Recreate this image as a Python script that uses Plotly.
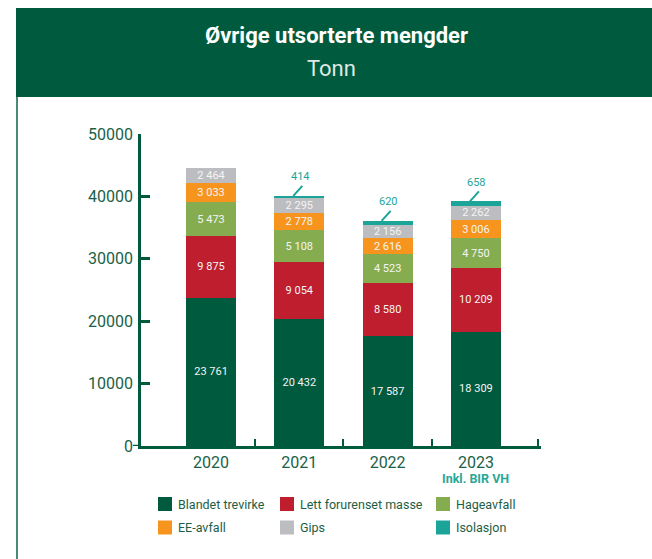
import plotly.graph_objects as go

# Utsorterte mengder per år (tonn)
years = ["2020", "2021", "2022", "2023"]
blandet_trevirke = [23761, 20432, 17587, 18309]
lett_forurenset = [9875, 9054, 8580, 10209]
hageavfall = [5473, 5108, 4523, 4750]
ee_avfall = [3033, 2778, 2616, 3006]
gips = [2464, 2295, 2156, 2262]
isolasjon = [None, 414, 620, 658]

series_names = ["Blandet trevirke", "Lett forurenset masse", "Hageavfall",
                "EE-avfall", "Gips", "Isolasjon"]
series_values = [blandet_trevirke, lett_forurenset, hageavfall,
                 ee_avfall, gips, isolasjon]
colors = ["#005b3e", "#be1e2d", "#85ad50", "#f7941e", "#bcbdc0", "#1ba599"]

GREEN = "#005b3e"
TEAL = "#1ba599"
FONT = "Roboto"

# plot area in pixels (figure 652 x 559)
W, H = 652, 559
L, R, T, B = 141, 111, 134, 113
PW, PH = W - L - R, H - T - B


def px_x(px):
    return (px - L) / PW


def px_y(py):
    return (H - B - py) / PH


def fmt(v):
    return f"{v:,}".replace(",", " ")


xpos = list(range(len(years)))
fig = go.Figure()

for name, vals, col in zip(series_names, series_values, colors):
    is_top = name == "Isolasjon"
    fig.add_trace(go.Bar(
        x=xpos, y=vals, name=name,
        marker=dict(color=col, line=dict(width=0)),
        width=0.566,
        text=None if is_top else [fmt(v) if v else "" for v in vals],
        textposition="inside", insidetextanchor="middle", textangle=0,
        textfont=dict(family=FONT, size=11, color="#f4f4f4"),
        hoverinfo="skip", showlegend=False,
    ))

shapes = []
annotations = []

# header band
shapes.append(dict(type="rect", xref="paper", yref="paper",
                   x0=px_x(16), x1=px_x(W + 2), y0=px_y(97), y1=px_y(8),
                   fillcolor=GREEN, line=dict(width=0), layer="below"))
# left frame line
shapes.append(dict(type="line", xref="paper", yref="paper",
                   x0=px_x(17), x1=px_x(17), y0=px_y(97), y1=px_y(H + 2),
                   line=dict(color="#4a8b71", width=2)))
# baseline stub left of the y axis
shapes.append(dict(type="line", xref="paper", yref="y",
                   x0=px_x(133), x1=0, y0=0, y1=0,
                   line=dict(color=GREEN, width=2.5)))

annotations.append(dict(text="<b>Øvrige utsorterte mengder</b>", xref="paper", yref="paper",
                        x=px_x(336), y=px_y(35), xanchor="center", yanchor="middle",
                        showarrow=False,
                        font=dict(family=FONT, size=22, color="white")))
annotations.append(dict(text="Tonn", xref="paper", yref="paper",
                        x=px_x(331), y=px_y(68), xanchor="center", yanchor="middle",
                        showarrow=False,
                        font=dict(family=FONT, size=22, color="#dfe9e4")))

# isolasjon labels with leader lines above each bar
for i, v in enumerate(isolasjon):
    if not v:
        continue
    total = sum(s[i] or 0 for s in series_values)
    shapes.append(dict(type="line", xref="x", yref="y",
                       xsizemode="pixel", ysizemode="pixel",
                       xanchor=i, yanchor=total,
                       x0=-6, x1=3, y0=0, y1=10,
                       line=dict(color=TEAL, width=2)))
    annotations.append(dict(text=fmt(v), x=i, y=total, xref="x", yref="y",
                            showarrow=False, yanchor="middle", yshift=19, xshift=1,
                            font=dict(family=FONT, size=11, color=TEAL)))

annotations.append(dict(text="<b>Inkl. BIR VH</b>", x=3, xref="x", yref="paper",
                        y=px_y(478), showarrow=False, xanchor="center", yanchor="middle",
                        font=dict(family=FONT, size=12.5, color="#2aa897")))

# legend grid
leg_cols = [158, 280, 436]
leg_rows = [504, 527.5]
sw = 14
for i, (name, col) in enumerate(zip(series_names, colors)):
    cx = leg_cols[i % 3]
    cy = leg_rows[i // 3]
    shapes.append(dict(type="rect", xref="paper", yref="paper",
                       x0=px_x(cx), x1=px_x(cx + sw),
                       y0=px_y(cy + sw / 2), y1=px_y(cy - sw / 2),
                       fillcolor=col, line=dict(width=0)))
    annotations.append(dict(text=name, xref="paper", yref="paper",
                            x=px_x(cx + sw + 4), y=px_y(cy), xanchor="left",
                            yanchor="middle", showarrow=False,
                            font=dict(family=FONT, size=12.5, color="#1d5e45")))

fig.update_layout(
    barmode="stack",
    width=W, height=H,
    margin=dict(l=L, r=R, t=T, b=B, pad=0),
    paper_bgcolor="white", plot_bgcolor="white",
    shapes=shapes, annotations=annotations,
    uniformtext=dict(minsize=11, mode="show"),
    showlegend=False,
    xaxis=dict(
        range=[-0.793, 3.737], tickmode="array", tickvals=xpos, ticktext=years,
        ticks="", showgrid=False, zeroline=False,
        showline=True, linecolor=GREEN, linewidth=2.5,
        tickfont=dict(family=FONT, size=16, color="#1a6147"),
        ticklabelstandoff=0,
        minor=dict(tickmode="array", tickvals=[0.5, 1.5, 2.5, 3.7],
                   ticks="inside", ticklen=7, tickwidth=2, tickcolor=GREEN),
        fixedrange=True,
    ),
    yaxis=dict(
        range=[0, 50000], tickmode="array",
        tickvals=[0, 10000, 20000, 30000, 40000, 50000],
        ticktext=["0", "10000", "20000", "30000", "40000", "50000"],
        ticks="inside", ticklen=9, tickwidth=2.5, tickcolor=GREEN,
        showline=True, linecolor=GREEN, linewidth=2.5,
        showgrid=False, zeroline=False,
        tickfont=dict(family=FONT, size=16, color="#1a6147"),
        ticklabelstandoff=2,
        fixedrange=True,
    ),
)

fig.write_html("out.html")
